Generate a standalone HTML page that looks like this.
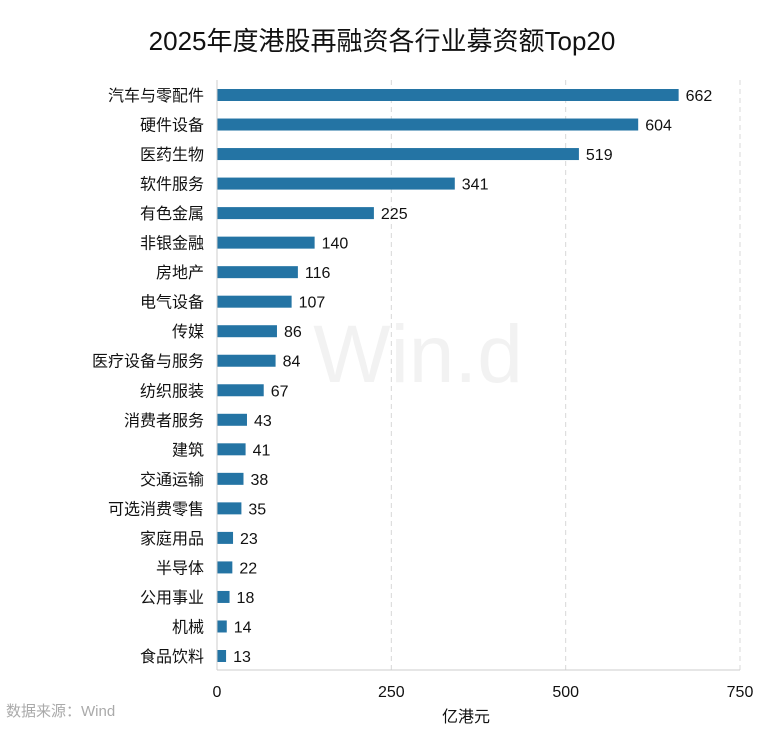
<!DOCTYPE html>
<html><head><meta charset="utf-8"><style>
body{margin:0;background:#fff;}
svg{display:block;font-family:"Liberation Sans","Noto Sans CJK SC",sans-serif;}
</style></head><body>
<svg id="chart" width="765" height="729">
<text x="382" y="50" text-anchor="middle" font-size="26" fill="#111">2025年度港股再融资各行业募资额Top20</text>
<text x="418" y="382" text-anchor="middle" font-size="82" fill="#f2f2f2">Win.d</text>
<g id="grid"></g>
<g id="bars"></g>
<line x1="217" y1="80" x2="217" y2="670" stroke="#ccc"/>
<line x1="217" y1="670" x2="740" y2="670" stroke="#ccc"/>
<text x="466" y="722" text-anchor="middle" font-size="16" fill="#111">亿港元</text>
<text x="6" y="716" font-size="15" fill="#aaa">数据来源：Wind</text>
</svg>
<script>
const categories=["汽车与零配件","硬件设备","医药生物","软件服务","有色金属","非银金融","房地产","电气设备","传媒","医疗设备与服务","纺织服装","消费者服务","建筑","交通运输","可选消费零售","家庭用品","半导体","公用事业","机械","食品饮料"];
const values=[662,604,519,341,225,140,116,107,86,84,67,43,41,38,35,23,22,18,14,13];
const ticks=[0,250,500,750];
const NS="http://www.w3.org/2000/svg";
const x=v=>217+v*(740-217)/750;
const y=i=>95+i*(656-95)/(categories.length-1);
function mk(tag,attrs,parent){const e=document.createElementNS(NS,tag);for(const k in attrs)e.setAttribute(k,attrs[k]);parent.appendChild(e);return e;}
const grid=document.getElementById('grid'),bars=document.getElementById('bars');
ticks.forEach(t=>{
  if(t>0){const l=mk('line',{x1:x(t),x2:x(t),y1:80,y2:670,stroke:'#d8d8d8','stroke-dasharray':'5,4'},grid);
  
  }
  const tx=mk('text',{x:x(t),y:697,'text-anchor':'middle','font-size':16,fill:'#111'},grid);
  tx.textContent=t;
  
  
});
categories.forEach((c,i)=>{
  const cy=y(i);
  const lb=mk('text',{x:204,y:cy+6,'text-anchor':'end','font-size':16,fill:'#111'},bars);
  lb.textContent=c;
  
  
  const r=mk('rect',{x:217,y:cy-6,width:x(values[i])-217,height:12,fill:'#2474a4'},bars);
  
  
  const v=mk('text',{x:x(values[i])+7,y:cy+6,'font-size':16,fill:'#111'},bars);
  v.textContent=values[i];
  
  
});
</script>
</body></html>
